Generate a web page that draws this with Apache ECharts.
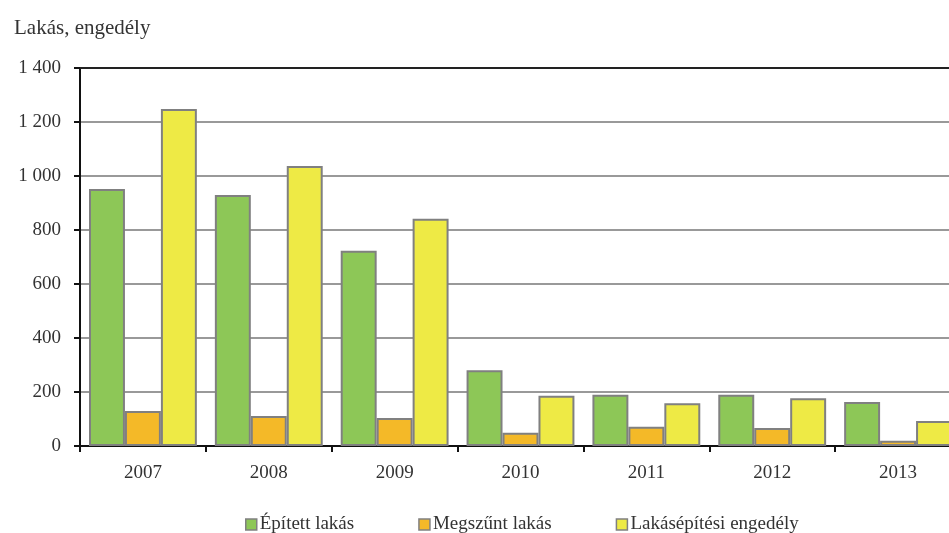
<!DOCTYPE html>
<html>
<head>
<meta charset="utf-8">
<script src="https://cdn.jsdelivr.net/npm/echarts@6/dist/echarts.min.js"></script>
<style>
html,body{margin:0;padding:0;background:#fff;}
#c{width:949px;height:533px;}
</style>
</head>
<body>
<div id="c"></div>
<script>
const categories = ['2007','2008','2009','2010','2011','2012','2013'];
const epitett = [952, 930, 723, 281, 190, 190, 163];
const megszunt = [130, 111, 104, 49, 71, 67, 19];
const engedely = [1248, 1037, 842, 186, 158, 177, 93];
const seriesNames = ['Épített lakás', 'Megszűnt lakás', 'Lakásépítési engedély'];
const colors = ['#8dc757', '#f4b928', '#eeea45'];

const font = 'Liberation Serif';
const chart = echarts.init(document.getElementById('c'));
const fmt = v => String(v).replace(/\B(?=(\d{3})+(?!\d))/g, ' ');
chart.setOption({
  animation: false,
  textStyle: {fontFamily: font},
  title: {
    text: 'Lakás, engedély', left: 9, top: 13,
    textStyle: {fontFamily: font, fontSize: 21, fontWeight: 'normal', color: '#333'}
  },
  legend: {
    data: seriesNames, left: 240, top: 510, itemWidth: 11, itemHeight: 11, itemGap: 64,
    icon: 'rect',
    textStyle: {fontFamily: font, fontSize: 19, color: '#333', padding: [0,0,0,-2]},
    itemStyle: {borderColor: '#808080', borderWidth: 1.5}
  },
  grid: {left: 80, top: 68, width: 881, bottom: 87, containLabel: false, outerBoundsMode: 'none'},
  xAxis: [{
    type: 'category', data: categories,
    axisLine: {lineStyle: {color: '#111', width: 2}},
    axisTick: {show: true, length: 6, lineStyle: {color: '#111', width: 2}},
    axisLabel: {fontFamily: font, fontSize: 19, color: '#333', margin: 18}
  }, {
    type: 'category', data: categories, position: 'top',
    axisLine: {show: true, lineStyle: {color: '#222', width: 2}},
    axisTick: {show: false}, axisLabel: {show: false}
  }],
  yAxis: {
    type: 'value', min: 0, max: 1400, interval: 200,
    axisLine: {show: true, lineStyle: {color: '#111', width: 2}},
    axisTick: {show: true, length: 6, lineStyle: {color: '#111', width: 2}},
    axisLabel: {fontFamily: font, fontSize: 19, color: '#333', margin: 19, formatter: fmt},
    splitLine: {show: true, lineStyle: {color: '#999', width: 2}}
  },
  series: [epitett, megszunt, engedely].map((d, i) => ({
    name: seriesNames[i], type: 'bar', data: d,
    barGap: '0%', barCategoryGap: '14.3%',
    itemStyle: {color: colors[i], borderColor: '#808080', borderWidth: 2}
  }))
});
</script>
</body>
</html>
